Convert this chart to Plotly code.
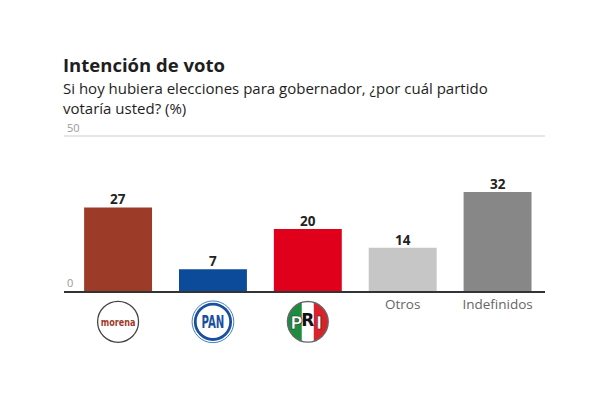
import base64
import plotly.graph_objects as go

# ---- data ----
categories = ["Morena", "PAN", "PRI", "Otros", "Indefinidos"]
values = [27, 7, 20, 14, 32]
tick_labels = ["", "", "", "Otros", "Indefinidos"]
bar_colors = ["#9c3b28", "#0c4a9a", "#e1001c", "#c6c6c6", "#878787"]
y_ticks = [0, 50]

title = "Intención de voto"
subtitle_lines = ["Si hoy hubiera elecciones para gobernador, ¿por cuál partido",
                  "votaría usted? (%)"]

FONT = "Open Sans"


def svg_uri(svg):
    return "data:image/svg+xml;base64," + base64.b64encode(svg.encode("utf-8")).decode("ascii")


morena_svg = """<svg xmlns='http://www.w3.org/2000/svg' width='88' height='88' viewBox='0 0 44 44'>
<circle cx='22' cy='22' r='20.6' fill='white' stroke='#444' stroke-width='1.3'/>
<text x='22' y='25.8' text-anchor='middle' font-family='DejaVu Sans, Lato, sans-serif' font-weight='bold'
 font-size='10.4' fill='#a03a28' textLength='35' lengthAdjust='spacingAndGlyphs'>morena</text>
</svg>"""

pan_svg = """<svg xmlns='http://www.w3.org/2000/svg' width='88' height='88' viewBox='0 0 44 44'>
<circle cx='22' cy='22' r='21' fill='white' stroke='#3f7fc6' stroke-width='1'/>
<circle cx='22' cy='22' r='17.8' fill='white' stroke='#1a4fa0' stroke-width='2.8'/>
<text x='22' y='28.3' text-anchor='middle' font-family='DejaVu Sans, Lato, sans-serif' font-weight='bold'
 font-size='17' fill='#1a4fa0' textLength='23' lengthAdjust='spacingAndGlyphs'>PAN</text>
</svg>"""

pri_svg = """<svg xmlns='http://www.w3.org/2000/svg' width='88' height='88' viewBox='0 0 44 44'>
<defs><clipPath id='c'><circle cx='22' cy='22' r='20.5'/></clipPath></defs>
<g clip-path='url(#c)'>
<rect x='0' y='0' width='16' height='44' fill='#1d8c3f'/>
<rect x='16' y='0' width='12' height='44' fill='#ffffff'/>
<rect x='28' y='0' width='16' height='44' fill='#d9222a'/>
</g>
<circle cx='22' cy='22' r='20.5' fill='none' stroke='#666' stroke-width='1.4'/>
<text x='10.5' y='29' text-anchor='middle' font-family='DejaVu Sans, Lato, sans-serif' font-weight='bold'
 font-size='17' fill='white' stroke='#222' stroke-width='0.6'>P</text>
<text x='22' y='26' text-anchor='middle' font-family='DejaVu Sans, Lato, sans-serif' font-weight='bold'
 font-size='17' fill='#111'>R</text>
<text x='33.5' y='29' text-anchor='middle' font-family='DejaVu Sans, Lato, sans-serif' font-weight='bold'
 font-size='17' fill='white' stroke='#222' stroke-width='0.6'>I</text>
</svg>"""

logos = [morena_svg, pan_svg, pri_svg]

fig = go.Figure()
fig.add_trace(go.Bar(
    x=list(range(len(categories))),
    y=values,
    marker=dict(color=bar_colors, line=dict(width=0)),
    width=0.716,
    hoverinfo="skip",
))

# plot area geometry: left 64, right 545, top ~134.5, bottom 291.5
W, H = 599, 400
L, R, T, B = 64, 54, 134.5, 108.5
plot_h = H - T - B
Y_TOP = 50.4

images = []
for i, svg in enumerate(logos):
    images.append(dict(
        source=svg_uri(svg), xref="x", yref="paper",
        x=i, xanchor="center",
        y=(0 - 31) / plot_h, yanchor="middle",
        sizex=44 / 95.0, sizey=44 / plot_h,
        sizing="contain", layer="above",
    ))

annotations = [
    dict(text=title, xref="paper", yref="paper", x=-3 / 481, xanchor="left",
         y=(H - B - 64) / plot_h, yanchor="middle", showarrow=False,
         font=dict(family=FONT, size=18.5, color="#1e1e1e", weight="bold")),
    dict(text="<br>".join(subtitle_lines), xref="paper", yref="paper", x=-3 / 481, xanchor="left",
         y=(H - B - 97.5) / plot_h, yanchor="middle", showarrow=False, align="left",
         font=dict(family=FONT, size=15, color="#1e1e1e")),
]
for i, v in enumerate(values):
    annotations.append(dict(
        text=str(v), x=i, y=v, xref="x", yref="y", showarrow=False,
        yanchor="middle", yshift=8,
        font=dict(family=FONT, size=13.5, color="#222222", weight="bold"),
    ))

fig.update_layout(
    width=W, height=H,
    margin=dict(l=L, r=R, t=T, b=B),
    paper_bgcolor="white", plot_bgcolor="white",
    showlegend=False,
    images=images,
    annotations=annotations,
    xaxis=dict(
        range=[-0.57, 4.5],
        tickmode="array", tickvals=list(range(len(categories))), ticktext=tick_labels,
        showgrid=False, zeroline=False,
        showline=True, linecolor="#333333", linewidth=2,
        ticks="", tickfont=dict(family=FONT, size=13.5, color="#666666"),
        fixedrange=True,
    ),
    yaxis=dict(
        range=[0, Y_TOP],
        tickmode="array", tickvals=y_ticks, ticktext=[str(v) for v in y_ticks],
        ticklabelposition="inside top", ticklabeloverflow="allow",
        ticklabelstandoff=0,
        showgrid=True, gridcolor="#e6e6e6", gridwidth=1.5,
        zeroline=False, showline=False, ticks="",
        tickfont=dict(family=FONT, size=11, color="#999999"),
        fixedrange=True,
    ),
)

fig.write_html("out.html", config={"displayModeBar": False},
               post_script="document.body.style.margin='0';")
